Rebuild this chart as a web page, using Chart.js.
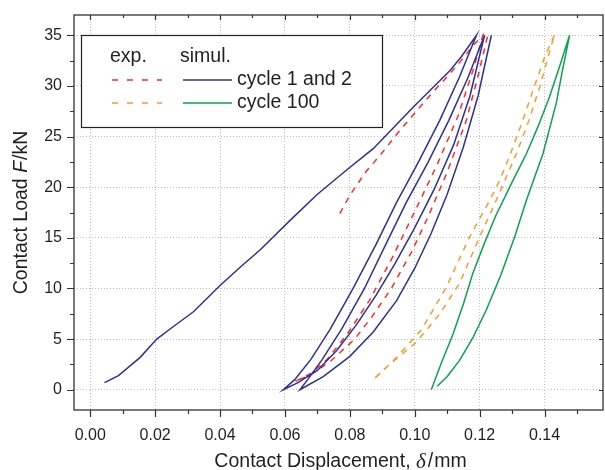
<!DOCTYPE html>
<html>
<head>
<meta charset="utf-8">
<script src="https://cdn.jsdelivr.net/npm/chart.js@4"></script>
<style>
  html, body { margin: 0; padding: 0; background: #fff; }
  canvas { display: block; }
</style>
</head>
<body>
<canvas id="myChart" width="605" height="470"></canvas>
<script>
// axis ticks
const xTicks = [0, 0.02, 0.04, 0.06, 0.08, 0.10, 0.12, 0.14];
const xTickLabels = ['0.00', '0.02', '0.04', '0.06', '0.08', '0.10', '0.12', '0.14'];
const yTicks = [0, 5, 10, 15, 20, 25, 30, 35];
const yTickLabels = ['0', '5', '10', '15', '20', '25', '30', '35'];

// simul. cycle 1 and 2 (first loading, unloading, reloading, unloading, reloading)
const simC12X = [
  0.0044, 0.0087, 0.0154, 0.0205, 0.0246, 0.0318, 0.0400, 0.0462, 0.0523, 0.0615, 0.0700, 0.0790, 0.0872, 0.0995, 0.1108, 0.1144, 0.1190,
  0.1138, 0.1077, 0.1010, 0.0944, 0.0880, 0.0810, 0.0740, 0.0680, 0.0630, 0.0595,
  0.0640, 0.0700, 0.0760, 0.0820, 0.0880, 0.0940, 0.1000, 0.1060, 0.1120, 0.1170, 0.1215,
  0.1165, 0.1105, 0.1040, 0.0974, 0.0910, 0.0845, 0.0775, 0.0715, 0.0670, 0.0646,
  0.0718, 0.0800, 0.0872, 0.0944, 0.1000, 0.1050, 0.1100, 0.1150, 0.1195, 0.1236
];
const simC12F = [
  0.7, 1.4, 3.2, 5.0, 6.0, 7.7, 10.3, 12.1, 13.8, 16.7, 19.3, 21.7, 23.8, 27.9, 31.5, 32.9, 35.0,
  30.9, 26.6, 22.4, 18.5, 14.3, 10.0, 6.0, 3.0, 1.0, 0.0,
  0.7, 1.9, 3.9, 6.4, 9.3, 12.5, 16.0, 19.8, 24.2, 29.0, 35.0,
  30.9, 26.6, 22.4, 18.5, 14.3, 10.0, 6.0, 3.0, 1.0, 0.0,
  1.3, 3.3, 5.7, 8.8, 12.0, 15.4, 19.3, 24.0, 29.0, 35.0
];

// exp. cycle 1 and 2
const expC12X = [
  0.0769, 0.0800, 0.0851, 0.0892, 0.0954, 0.1005, 0.1056, 0.1097, 0.1138, 0.1180, 0.1210,
  0.1179, 0.1133, 0.1070, 0.1000, 0.0930, 0.0860, 0.0790, 0.0730, 0.0680, 0.0630,
  0.0680, 0.0740, 0.0815, 0.0870, 0.0928, 0.0990, 0.1040, 0.1100, 0.1159, 0.1195, 0.1225
];
const expC12F = [
  17.4, 19.2, 21.6, 23.1, 25.6, 27.5, 29.4, 30.8, 32.3, 34.0, 35.0,
  31.5, 27.0, 22.3, 17.6, 13.0, 8.8, 5.4, 3.0, 1.6, 0.8,
  1.5, 2.8, 5.0, 7.3, 10.0, 13.6, 17.0, 21.5, 26.6, 31.0, 35.0
];

// exp. cycle 100
const expC100X = [
  0.1430, 0.1402, 0.1368, 0.1333, 0.1295, 0.1262, 0.1231, 0.1169, 0.1097, 0.1020, 0.0944, 0.0900, 0.0872,
  0.0913, 0.1005, 0.1077, 0.1138, 0.1200, 0.1251, 0.1313, 0.1352, 0.1385, 0.1412, 0.1430
];
const expC100F = [
  35.0, 33.0, 29.9, 26.6, 23.3, 20.7, 18.7, 15.1, 10.1, 5.9, 3.2, 1.8, 1.0,
  2.25, 4.7, 7.5, 10.5, 15.1, 18.7, 23.3, 26.6, 29.9, 33.0, 35.0
];

// simul. cycle 100
const simC100X = [
  0.1051, 0.1080, 0.1118, 0.1150, 0.1179, 0.1215, 0.1250, 0.1300, 0.1344, 0.1380, 0.1415, 0.1447, 0.1477,
  0.1455, 0.1436, 0.1395, 0.1344, 0.1308, 0.1265, 0.1220, 0.1180, 0.1138, 0.1100, 0.1069
];
const simC100F = [
  0.0, 2.5, 5.5, 8.5, 11.5, 14.5, 17.2, 20.5, 23.3, 26.0, 28.9, 32.0, 35.0,
  31.5, 28.3, 23.3, 18.7, 15.1, 11.3, 7.85, 5.2, 2.9, 1.3, 0.35
];

const FONT = "'Liberation Sans', Arial, Helvetica, sans-serif";
const TXT = '#231f20';
const BLUE = '#2e3192';
const RED = '#ff2a2a';
const ORANGE = '#fb9a2a';
const GREEN = '#0aa34f';

function pts(xs, ys) {
  return xs.map((v, i) => ({ x: v, y: ys[i] }));
}

function line(label, xs, ys, color, dashed) {
  return {
    label: label,
    data: pts(xs, ys),
    showLine: true,
    borderColor: color,
    backgroundColor: color,
    borderWidth: 1.5,
    borderDash: dashed ? [6, 6] : [],
    pointRadius: 0,
    tension: 0
  };
}

// frame, ticks, axis titles and legend
const framePlugin = {
  id: 'frame',
  afterDraw(chart) {
    const ctx = chart.ctx;
    const a = chart.chartArea;
    const x = chart.scales.x, y = chart.scales.y;
    ctx.save();
    ctx.strokeStyle = '#333';
    ctx.lineWidth = 1.3;
    ctx.strokeRect(a.left, a.top, a.right - a.left, a.bottom - a.top);

    ctx.lineWidth = 1.2;
    ctx.beginPath();
    xTicks.forEach(v => {
      const px = Math.round(x.getPixelForValue(v)) + 0.5;
      ctx.moveTo(px, a.bottom); ctx.lineTo(px, a.bottom + 7);
      ctx.moveTo(px, a.top); ctx.lineTo(px, a.top + 5);
      const pm = Math.round(x.getPixelForValue(v + 0.01)) + 0.5;
      if (v + 0.01 < x.max) {
        ctx.moveTo(pm, a.bottom); ctx.lineTo(pm, a.bottom + 4);
        ctx.moveTo(pm, a.top); ctx.lineTo(pm, a.top + 3);
      }
    });
    yTicks.forEach(v => {
      const py = Math.round(y.getPixelForValue(v)) + 0.5;
      ctx.moveTo(a.left, py); ctx.lineTo(a.left - 7, py);
      ctx.moveTo(a.right, py); ctx.lineTo(a.right - 4, py);
      if (v + 2.5 < y.max) {
        const pm = Math.round(y.getPixelForValue(v + 2.5)) + 0.5;
        ctx.moveTo(a.left, pm); ctx.lineTo(a.left - 4, pm);
        ctx.moveTo(a.right, pm); ctx.lineTo(a.right - 3, pm);
      }
    });
    ctx.stroke();

    // axis titles with italic symbols
    ctx.fillStyle = TXT;
    ctx.textBaseline = 'middle';
    const drawParts = (parts, cx, cy) => {
      let w = 0;
      parts.forEach(p => { ctx.font = p.font; w += ctx.measureText(p.t).width + (p.gap || 0); });
      let px = cx - w / 2;
      parts.forEach(p => {
        ctx.font = p.font;
        ctx.fillText(p.t, px, cy);
        px += ctx.measureText(p.t).width + (p.gap || 0);
      });
    };
    ctx.textAlign = 'left';
    drawParts([
      { t: 'Contact Displacement, ', font: '19.5px ' + FONT },
      { t: 'δ', font: "italic 21px 'Liberation Serif', serif", gap: 2 },
      { t: '/', font: '19.5px ' + FONT, gap: 1 },
      { t: 'mm', font: '19.5px ' + FONT }
    ], (a.left + a.right) / 2 + 2, 462);

    ctx.save();
    ctx.translate(22, (a.top + a.bottom) / 2);
    ctx.rotate(-Math.PI / 2);
    drawParts([
      { t: 'Contact Load ', font: '19.5px ' + FONT },
      { t: 'F', font: 'italic 19.5px ' + FONT, gap: 1 },
      { t: '/kN', font: '19.5px ' + FONT }
    ], 0, 0);
    ctx.restore();

    // legend box
    const ds = chart.data.datasets;
    ctx.fillStyle = '#fff';
    ctx.fillRect(81.5, 35.5, 301, 92);
    ctx.strokeStyle = '#222';
    ctx.lineWidth = 1.2;
    ctx.strokeRect(81.5, 35.5, 301, 92);
    ctx.fillStyle = TXT;
    ctx.font = '19.5px ' + FONT;
    ctx.fillText('exp.', 110, 57);
    ctx.fillText('simul.', 180, 57);
    const rows = [[ds[1], ds[0], 'cycle 1 and 2', 80], [ds[2], ds[3], 'cycle 100', 103]];
    rows.forEach(r => {
      ctx.lineWidth = 1.5;
      ctx.strokeStyle = r[0].borderColor;
      ctx.setLineDash([6, 9]);
      ctx.beginPath(); ctx.moveTo(112, r[3]); ctx.lineTo(162, r[3]); ctx.stroke();
      ctx.setLineDash([]);
      ctx.strokeStyle = r[1].borderColor;
      ctx.beginPath(); ctx.moveTo(183, r[3]); ctx.lineTo(232, r[3]); ctx.stroke();
      ctx.fillStyle = TXT;
      ctx.fillText(r[2], 237, r[3]);
    });
    ctx.restore();
  }
};

const ctx = document.getElementById('myChart').getContext('2d');
new Chart(ctx, {
  type: 'scatter',
  data: {
    datasets: [
      line('simul. cycle 1 and 2', simC12X, simC12F, BLUE, false),
      line('exp. cycle 1 and 2', expC12X, expC12F, RED, true),
      line('exp. cycle 100', expC100X, expC100F, ORANGE, true),
      line('simul. cycle 100', simC100X, simC100F, GREEN, false)
    ]
  },
  options: {
    responsive: false,
    animation: false,
    layout: { padding: { top: 15, right: 2, left: 0, bottom: 0 } },
    plugins: { legend: { display: false }, tooltip: { enabled: false } },
    scales: {
      x: {
        type: 'linear',
        min: -0.005,
        max: 0.158,
        afterBuildTicks: s => { s.ticks = xTicks.map(v => ({ value: v })); },
        afterFit: s => { s.height = 60; s.paddingLeft = 0; s.paddingRight = 0; },
        ticks: {
          padding: 16,
          color: TXT,
          font: { family: FONT, size: 16 },
          maxRotation: 0,
          callback: (v, i) => xTickLabels[i]
        },
        grid: { color: '#bdbdbd', lineWidth: 1, drawTicks: false },
        border: { display: false, dash: [1, 2] }
      },
      y: {
        type: 'linear',
        min: -2,
        max: 37,
        afterBuildTicks: s => { s.ticks = yTicks.map(v => ({ value: v })); },
        afterFit: s => { s.width = 74; s.paddingTop = 0; s.paddingBottom = 0; },
        ticks: {
          padding: 12,
          color: TXT,
          font: { family: FONT, size: 16 },
          callback: (v, i) => yTickLabels[i]
        },
        grid: { color: '#bdbdbd', lineWidth: 1, drawTicks: false },
        border: { display: false, dash: [1, 2] }
      }
    }
  },
  plugins: [framePlugin]
});
</script>
</body>
</html>
